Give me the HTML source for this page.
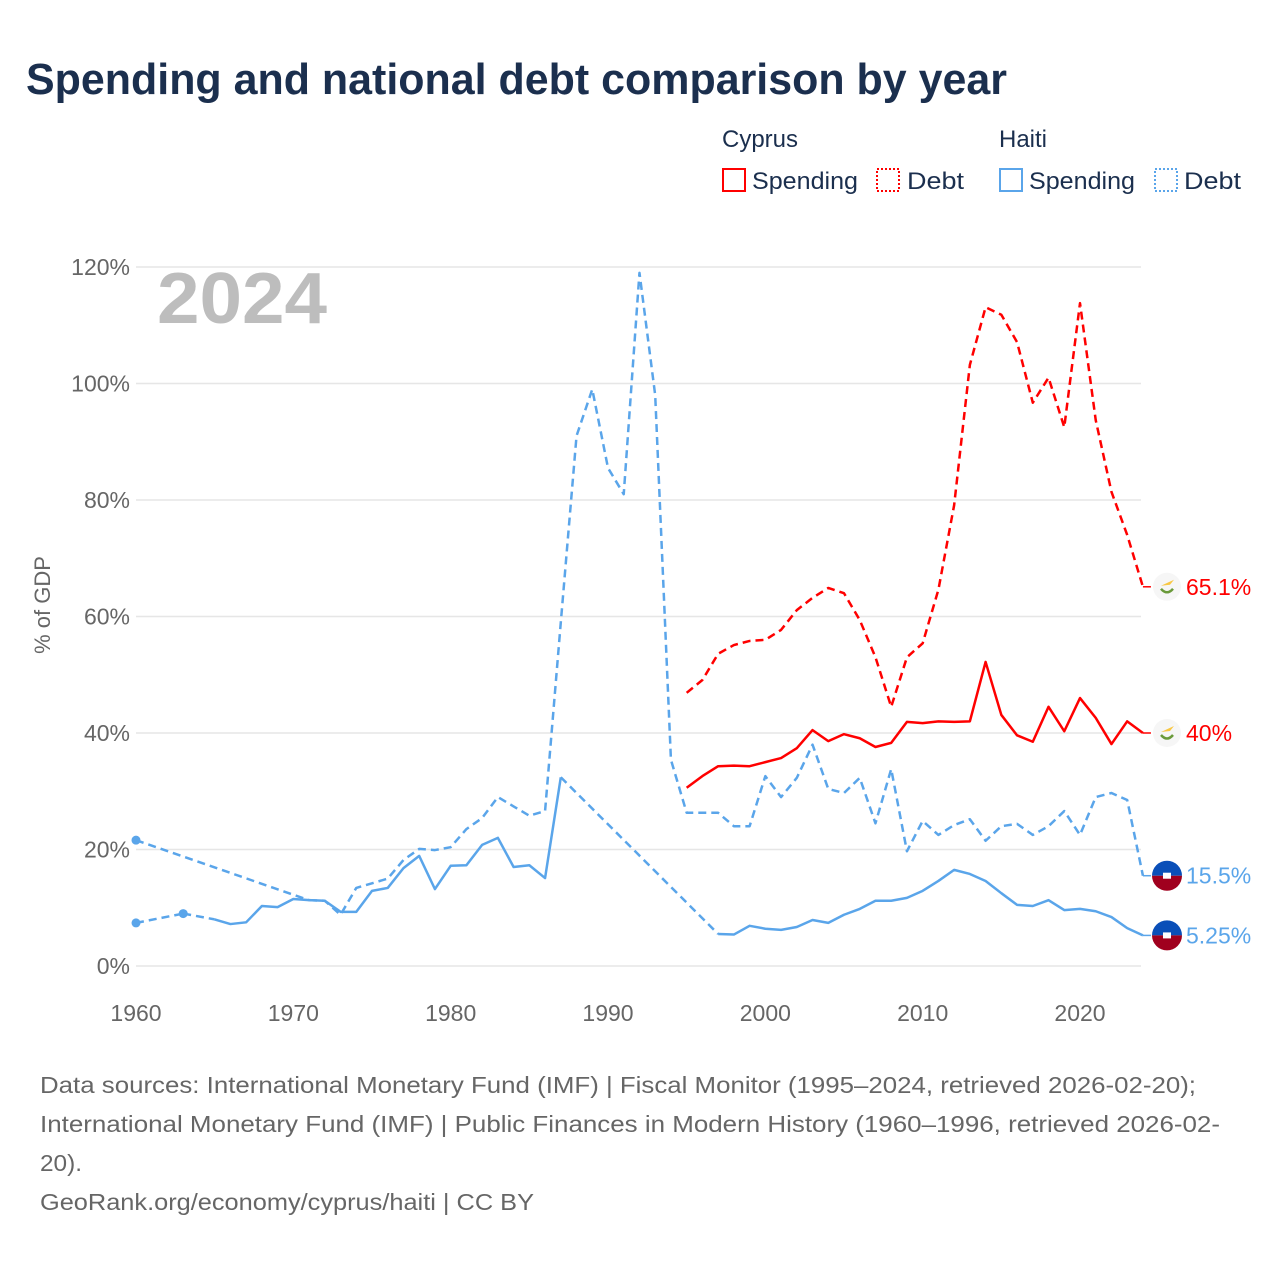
<!DOCTYPE html>
<html><head><meta charset="utf-8">
<style>
body{margin:0;background:#fff;font-family:"Liberation Sans",sans-serif;}
#wrap{position:relative;width:1280px;height:1280px;overflow:hidden;}
</style></head>
<body>
<div id="wrap">
<svg id="chart" width="1280" height="1280" style="position:absolute;left:0;top:0">
  <text x="26" y="94" font-size="44" font-weight="bold" fill="#1b2f4e" textLength="981" lengthAdjust="spacingAndGlyphs">Spending and national debt comparison by year</text>
  <g font-size="24" fill="#1b2f4e">
    <text x="722" y="147">Cyprus</text>
    <text x="999" y="147">Haiti</text>
    <g><rect x="723" y="169" width="22" height="22" fill="none" stroke="#f00" stroke-width="2"/><text x="752" y="189" textLength="106" lengthAdjust="spacingAndGlyphs">Spending</text></g>
    <g><rect x="877" y="169" width="22" height="22" fill="none" stroke="#f00" stroke-width="2" stroke-dasharray="2,2"/><text x="907" y="189" textLength="57" lengthAdjust="spacingAndGlyphs">Debt</text></g>
    <g><rect x="1000" y="169" width="22" height="22" fill="none" stroke="#5aa5ea" stroke-width="2"/><text x="1029" y="189" textLength="106" lengthAdjust="spacingAndGlyphs">Spending</text></g>
    <g><rect x="1155" y="169" width="22" height="22" fill="none" stroke="#5aa5ea" stroke-width="2" stroke-dasharray="2,2"/><text x="1184" y="189" textLength="57" lengthAdjust="spacingAndGlyphs">Debt</text></g>
  </g>
  <text x="157" y="323" font-size="72" font-weight="bold" fill="#bdbdbd" textLength="170" lengthAdjust="spacingAndGlyphs">2024</text>
  <text transform="translate(50,605) rotate(-90)" text-anchor="middle" font-size="22" fill="#666">% of GDP</text>
  <g id="grid"></g><g id="series"></g><g id="ends"></g>
  <g font-size="23" fill="#666">
    <text x="40" y="1093" textLength="1156" lengthAdjust="spacingAndGlyphs">Data sources: International Monetary Fund (IMF) | Fiscal Monitor (1995–2024, retrieved 2026-02-20);</text>
    <text x="40" y="1132" textLength="1180" lengthAdjust="spacingAndGlyphs">International Monetary Fund (IMF) | Public Finances in Modern History (1960–1996, retrieved 2026-02-</text>
    <text x="40" y="1171" textLength="42" lengthAdjust="spacingAndGlyphs">20).</text>
    <text x="40" y="1210" textLength="494" lengthAdjust="spacingAndGlyphs">GeoRank.org/economy/cyprus/haiti | CC BY</text>
  </g>
</svg>
</div>
<script>
const yTicks=[0,20,40,60,80,100,120];
const xTicks=[1960,1970,1980,1990,2000,2010,2020];
const years=[];for(let y=1960;y<=2024;y++)years.push(y);
const N=null;
// 1960..2024
const haitiSpending=[7.4,N,N,9.0,N,8.0,7.2,7.5,10.3,10.1,11.5,11.3,11.2,9.3,9.3,12.9,13.4,16.8,18.9,13.2,17.2,17.3,20.8,22.0,17.0,17.3,15.1,32.4,N,N,N,N,N,N,N,N,N,5.5,5.4,6.9,6.4,6.2,6.7,7.9,7.4,8.8,9.8,11.2,11.2,11.7,12.9,14.6,16.5,15.8,14.6,12.5,10.5,10.3,11.3,9.6,9.8,9.4,8.4,6.5,5.25];
const haitiDebt=[21.6,N,N,N,N,N,N,N,N,N,N,11.3,11.2,8.8,13.4,14.2,15.0,18.2,20.1,19.9,20.4,23.5,25.4,29.0,27.4,25.8,26.6,59,91,99,85.5,81,119,98,35.4,26.3,26.3,26.3,24.0,24.0,32.6,29.0,32.3,38.0,30.4,29.7,32.3,24.5,33.8,19.7,24.9,22.5,24.2,25.2,21.5,24.0,24.4,22.5,24.0,26.6,22.5,29.0,29.7,28.5,15.5];
const cyprusSpending=[N,N,N,N,N,N,N,N,N,N,N,N,N,N,N,N,N,N,N,N,N,N,N,N,N,N,N,N,N,N,N,N,N,N,N,30.6,32.6,34.3,34.4,34.3,35.0,35.7,37.4,40.5,38.6,39.8,39.1,37.6,38.3,41.9,41.7,42.0,41.9,42.0,52.2,43.1,39.6,38.5,44.5,40.3,46.0,42.6,38.1,42.0,40.0];
const cyprusDebt=[N,N,N,N,N,N,N,N,N,N,N,N,N,N,N,N,N,N,N,N,N,N,N,N,N,N,N,N,N,N,N,N,N,N,N,46.9,49.1,53.6,55.1,55.8,56.0,57.7,61.1,63.2,64.9,64.0,59.4,53.0,44.5,53.0,55.4,64.6,79.1,103.2,113.1,111.8,107.1,96.7,101.0,92.5,113.8,93.7,81.4,74.0,65.1];
const endLabels=["65.1%","40%","15.5%","5.25%"];

const NS="http://www.w3.org/2000/svg";
const X=y=>136+(y-1960)*(944/60);
const Y=v=>966-v*(699/120);
function el(tag,attrs,parent){const e=document.createElementNS(NS,tag);for(const k in attrs)e.setAttribute(k,attrs[k]);parent.appendChild(e);return e;}
const grid=document.getElementById('grid');
yTicks.forEach(t=>{
  const l=el('line',{x1:136,x2:1141,y1:Y(t),y2:Y(t),stroke:'#e6e6e6','stroke-width':1.5},grid);
  
  
  const tx=el('text',{x:130,y:Y(t)+8,'text-anchor':'end','font-size':23,fill:'#666'},grid);tx.textContent=t+'%';
  
  
});
xTicks.forEach(t=>{
  const tx=el('text',{x:X(t),y:1021,'text-anchor':'middle','font-size':23,fill:'#666'},grid);tx.textContent=t;
  
  
});
const S=document.getElementById('series');
function drawSeries(vals,color,dashed,name){
  const g=el('g',{},S);
  
  
  const dash=dashed?'8,5':'none';
  let seg=[],prev=null,segs=[];
  vals.forEach((v,i)=>{
    if(v===null){if(seg.length)segs.push(seg);seg=[];return;}
    const p=[X(years[i]),Y(v)];
    if(!seg.length&&prev){
      const c=el('line',{x1:prev[0],y1:prev[1],x2:p[0],y2:p[1],stroke:color,'stroke-width':2.5,'stroke-dasharray':'8,5'},g);
      
      
    }
    seg.push(p);prev=p;
  });
  if(seg.length)segs.push(seg);
  segs.forEach(s=>{
    if(s.length===1){
      const d=el('circle',{cx:s[0][0],cy:s[0][1],r:4.5,fill:color},g);
      
      
    }else{
      const pl=el('polyline',{points:s.map(p=>p.join(',')).join(' '),fill:'none',stroke:color,'stroke-width':2.5,'stroke-dasharray':dash,'stroke-linejoin':'round'},g);
      
      
    }
  });
  const last=vals[vals.length-1];
  const ext=el('line',{x1:X(2024),x2:X(2024)+8,y1:Y(last),y2:Y(last),stroke:color,'stroke-width':1.5},g);
  
  
}
drawSeries(haitiSpending,'#5aa5ea',false,'haiti-spending');
drawSeries(haitiDebt,'#5aa5ea',true,'haiti-debt');
drawSeries(cyprusSpending,'#ff0000',false,'cyprus-spending');
drawSeries(cyprusDebt,'#ff0000',true,'cyprus-debt');
const E=document.getElementById('ends');
const ends=[[cyprusDebt,'cy','#ff0000'],[cyprusSpending,'cy','#ff0000'],[haitiDebt,'ht','#5aa5ea'],[haitiSpending,'ht','#5aa5ea']];
ends.forEach((e,i)=>{
  const v=e[0][e[0].length-1],cy=Y(v),cx=1167;
  const g=el('g',{},E);
  
  
  if(e[1]==='cy'){
    el('circle',{cx:cx,cy:cy,r:14,fill:'#f6f6f6'},g);
    el('path',{d:`M${cx-6} ${cy-1} L${cx+7} ${cy-7} L${cx+3} ${cy-2} Z`,fill:'#f8c743'},g);
    el('path',{d:`M${cx-6} ${cy+2} Q${cx} ${cy+9} ${cx+6} ${cy+2}`,fill:'none',stroke:'#6a9a3a','stroke-width':2.5},g);
  }else{
    el('path',{d:`M${cx-15} ${cy} A15 15 0 0 1 ${cx+15} ${cy} Z`,fill:'#0a4fb8'},g);
    el('path',{d:`M${cx-15} ${cy} A15 15 0 0 0 ${cx+15} ${cy} Z`,fill:'#a0001e'},g);
    el('rect',{x:cx-4,y:cy-3,width:8,height:6,fill:'#fff'},g);
  }
  const t=el('text',{x:1186,y:cy+8,'font-size':23,fill:e[2]},E);t.textContent=endLabels[i];
  
  
});
</script>
</body></html>
